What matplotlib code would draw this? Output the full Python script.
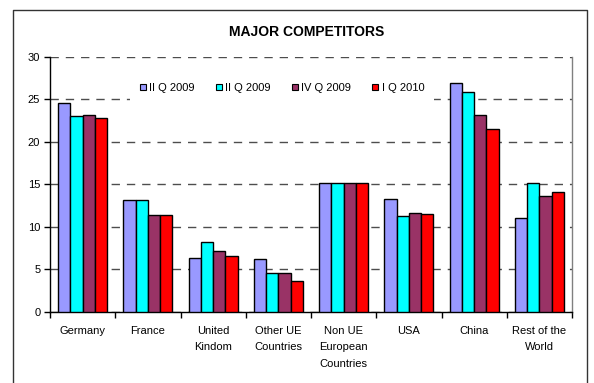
import matplotlib
matplotlib.use("Agg")
import matplotlib.pyplot as plt
from matplotlib.patches import Patch
from matplotlib.lines import Line2D
import numpy as np

plt.rcParams['font.family'] = ['Liberation Sans', 'DejaVu Sans']

categories = ["Germany", "France", "United\nKindom", "Other UE\nCountries",
              "Non UE\nEuropean\nCountries", "USA", "China", "Rest of the\nWorld"]
series_labels = ["II Q 2009", "II Q 2009", "IV Q 2009", "I Q 2010"]
q2_2009 = [24.5, 13.1, 6.35, 6.2, 15.1, 13.25, 26.9, 11.05]
q3_2009 = [23.0, 13.1, 8.2, 4.5, 15.1, 11.25, 25.9, 15.1]
q4_2009 = [23.2, 11.4, 7.2, 4.5, 15.1, 11.6, 23.2, 13.6]
q1_2010 = [22.8, 11.4, 6.55, 3.65, 15.1, 11.45, 21.5, 14.1]
colors = ["#9999FF", "#00FFFF", "#993366", "#FF0000"]

W, H = 594, 383
fig = plt.figure(figsize=(W / 100, H / 100), dpi=100)
fig.patch.set_facecolor("white")

# outer frame (open at the bottom edge of the image)
frame_kw = dict(color="#333333", lw=1.0, transform=fig.transFigure)
fig.add_artist(Line2D([13 / W, 13 / W, 587 / W, 587 / W],
                      [-0.05, 1 - 10 / H, 1 - 10 / H, -0.05], **frame_kw))

ax = fig.add_axes([50 / W, 1 - 311.7 / H, (572 - 50) / W, (311.7 - 56.7) / H])

x = np.arange(len(categories))
bw = 0.1875
all_series = [q2_2009, q3_2009, q4_2009, q1_2010]
for i, (vals, c) in enumerate(zip(all_series, colors)):
    ax.bar(x + (i - 1.5) * bw, vals, width=bw, color=c, edgecolor="black",
           linewidth=1.0, zorder=3)

ax.set_xlim(-0.5, len(categories) - 0.5)
ax.set_ylim(0, 30)
ax.set_yticks(range(0, 31, 5))
ax.yaxis.grid(True, color="#4d4d4d", linestyle=(0, (6, 5)), linewidth=1.0, zorder=0)
ax.set_axisbelow(True)

ax.set_xticks(x)
ax.set_xticklabels(categories, fontsize=8, linespacing=1.85)
ax.tick_params(axis="x", which="major", length=0, pad=10)
ax.set_xticks(np.arange(-0.5, len(categories), 1.0), minor=True)
ax.tick_params(axis="x", which="minor", length=4, direction="out", width=1)
ax.tick_params(axis="y", length=4, direction="out", width=1, labelsize=8, pad=3)

for s in ["left", "bottom"]:
    ax.spines[s].set_color("black")
    ax.spines[s].set_linewidth(1.0)
ax.spines["top"].set_visible(False)
ax.spines["right"].set_color("#808080")
ax.spines["right"].set_linewidth(1.0)

handles = [Patch(facecolor=c, edgecolor="black", linewidth=0.8) for c in colors]
leg = ax.legend(handles, series_labels, ncol=4, loc="center",
                bbox_to_anchor=(282 / W, 1 - 88 / H), bbox_transform=fig.transFigure,
                frameon=True, fontsize=8, handlelength=0.55, handleheight=0.55,
                handletextpad=0.3, columnspacing=1.9, borderpad=0.9)
leg.get_frame().set_edgecolor("none")
leg.get_frame().set_facecolor("white")
leg.get_frame().set_alpha(1.0)
leg.set_zorder(2)

fig.text(307 / W, 1 - 32 / H, "MAJOR COMPETITORS", ha="center", va="center",
         fontsize=10, fontweight="bold")

fig.savefig("out.png", dpi=100)
